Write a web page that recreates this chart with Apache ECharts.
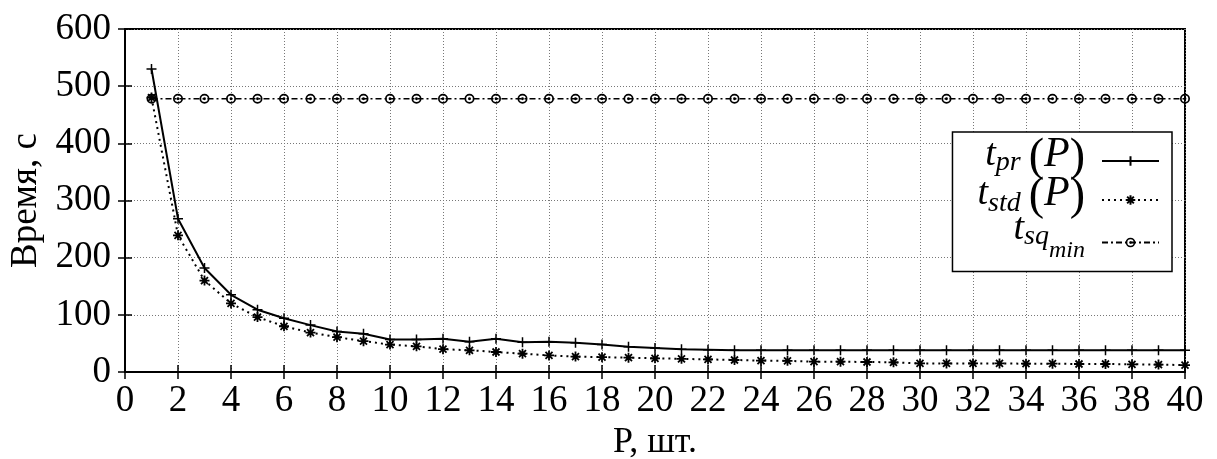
<!DOCTYPE html>
<html><head><meta charset="utf-8">
<script src="https://cdn.jsdelivr.net/npm/echarts@6/dist/echarts.min.js"></script>
<style>html,body{margin:0;padding:0;background:#fff}#c{width:1217px;height:459px}</style>
</head><body><div id="c"></div>
<script>
const P = [1,2,3,4,5,6,7,8,9,10,11,12,13,14,15,16,17,18,19,20,21,22,23,24,25,26,27,28,29,30,31,32,33,34,35,36,37,38,39,40];
const tPr = [530,268,182,135,109,94,82,71,67,57,57,58,53,58,52,53,51,48,44,42,40,39,38,38,38,38,38,38,38,38,38,38,38,38,38,38,38,38,38,38];
const tStd = [480,239,160,120,96,80,69,61,54,48,45,40,38,35,32,29,27,26,25,24,23,22,21,20,19.5,18,18,17.5,17,15,15,15,15,14.5,14.5,14,14,13.5,13,12];
const tSqMin = [478,478,478,478,478,478,478,478,478,478,478,478,478,478,478,478,478,478,478,478,478,478,478,478,478,478,478,478,478,478,478,478,478,478,478,478,478,478,478,478];
const xTicks = {min:0, max:40, step:2};
const yTicks = {min:0, max:600, step:100};
const names = ['t_pr','t_std','t_sqmin'];

const FONT = 'Liberation Serif';
const pair = a => P.map((x,i)=>[x,a[i]]);
const plusSym = 'path://M-1,0L1,0M0,-1L0,1';
const starSym = 'path://M-1,0L1,0M0,-1L0,1M-0.7,-0.7L0.7,0.7M-0.7,0.7L0.7,-0.7';
const ringSym = 'path://M-1,0A1,1 0 1,1 1,0A1,1 0 1,1 -1,0ZM-0.66,0A0.66,0.66 0 1,0 0.66,0A0.66,0.66 0 1,0 -0.66,0ZM-0.28,0A0.28,0.28 0 1,1 0.28,0A0.28,0.28 0 1,1 -0.28,0Z';
const grid = {type:[1,2], color:'#777', width:1};

const it = (fs, h, va, italic) => ({fontFamily:FONT, fontStyle:italic===false?'normal':'italic', fontSize:fs, height:h, lineHeight:h, verticalAlign:va, color:'#000'});
const rich = {
  t:it(38,47,'top'),
  P:it(42,46,'top'),
  par:it(46,52,'top',false),
  s1:it(28,54,'bottom'),
  s2:it(28,50,'bottom'),
  t3:it(38,31,'top'),
  sq:it(28,46,'top'),
  mn:it(24,42,'bottom'),
  g:{width:8, fontSize:12, lineHeight:58},
  e:{width:12, fontSize:12, lineHeight:58}
};

const chart = echarts.init(document.getElementById('c'), null, {renderer:'canvas'});
const baseX = {type:'value', min:xTicks.min, max:xTicks.max, interval:xTicks.step};
const baseY = {type:'value', min:yTicks.min, max:yTicks.max, interval:yTicks.step};
chart.setOption({
  animation:false,
  backgroundColor:'#fff',
  grid:{left:125, right:32, top:29, bottom:87, containLabel:false, outerBoundsMode:'none',
    show:true, borderColor:'#000', borderWidth:2, backgroundColor:'transparent'},
  xAxis:[
    Object.assign({}, baseX, {position:'bottom', name:'P, шт.', nameLocation:'middle', nameGap:45,
      nameTextStyle:{fontFamily:FONT, fontSize:36, color:'#000'},
      axisLine:{show:true, lineStyle:{color:'#000', width:2}},
      axisTick:{inside:true, length:7, lineStyle:{color:'#000', width:1.5}},
      axisLabel:{fontFamily:FONT, fontSize:37, color:'#000', margin:11},
      splitLine:{show:true, lineStyle:grid}}),
    Object.assign({}, baseX, {position:'top', axisLine:{show:false},
      axisTick:{inside:true, length:7, lineStyle:{color:'#000', width:1.5}},
      axisLabel:{show:false}, splitLine:{show:false}})
  ],
  yAxis:[
    Object.assign({}, baseY, {position:'left', name:'Время, с', nameLocation:'middle', nameGap:80,
      nameTextStyle:{fontFamily:FONT, fontSize:37, color:'#000'},
      axisLine:{show:true, lineStyle:{color:'#000', width:2}},
      axisTick:{inside:true, length:7, lineStyle:{color:'#000', width:1.5}},
      axisLabel:{fontFamily:FONT, fontSize:37, color:'#000', margin:14},
      splitLine:{show:true, lineStyle:grid}}),
    Object.assign({}, baseY, {position:'right', axisLine:{show:false},
      axisTick:{inside:true, length:7, lineStyle:{color:'#000', width:1.5}},
      axisLabel:{show:false}, splitLine:{show:false}})
  ],
  legend:{
    orient:'vertical', right:45, top:132, align:'right',
    padding:[0,12,0,25], itemGap:-19, itemWidth:57, itemHeight:12,
    backgroundColor:'#fff', borderColor:'#000', borderWidth:1.5,
    data:[
      {name:names[0], textStyle:{backgroundColor:'rgba(255,255,255,0)'}},
      {name:names[1], textStyle:{backgroundColor:'rgba(255,255,255,0)'}},
      {name:names[2]}
    ],
    formatter:function(n){
      if(n==='t_pr') return '{t|t}{s1|pr}{g|\u00a0}{par|(}{P|P}{par|)}{e|\u00a0}';
      if(n==='t_std') return '{t|t}{s2|std}{g|\u00a0}{par|(}{P|P}{par|)}{e|\u00a0}';
      return '{t3|t}{sq|sq}{mn|min}{e|\u00a0}';
    },
    textStyle:{color:'#000', fontFamily:FONT, rich:rich}
  },
  series:[
    {name:'t_pr', type:'line', data:pair(tPr), symbol:plusSym, symbolSize:10,
      lineStyle:{color:'#000', width:2, type:'solid'},
      itemStyle:{color:'#000', borderColor:'#000', borderWidth:1.5}, z:4},
    {name:'t_std', type:'line', data:pair(tStd), symbol:starSym, symbolSize:10,
      lineStyle:{color:'#000', width:2, type:[2,4]},
      itemStyle:{color:'#000', borderColor:'#000', borderWidth:1.8}, z:3},
    {name:'t_sqmin', type:'line', data:pair(tSqMin), symbol:ringSym, symbolSize:10,
      lineStyle:{color:'#000', width:1.5, type:[6,3,2,3]},
      itemStyle:{color:'#000', borderWidth:0}, z:2}
  ]
});
</script></body></html>
